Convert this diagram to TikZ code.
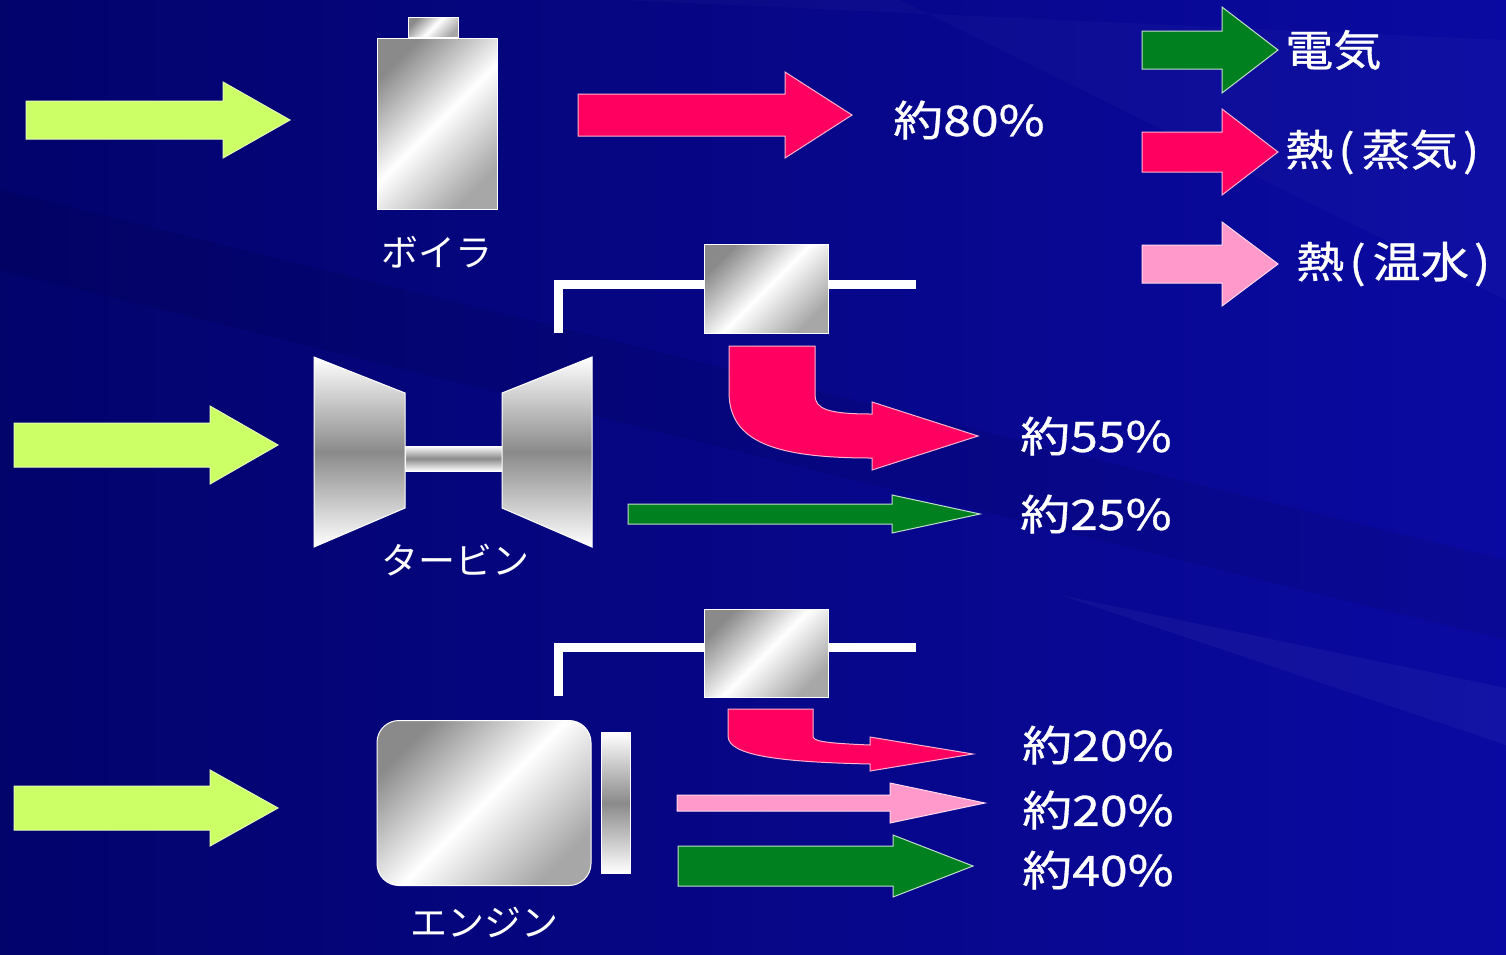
\documentclass[tikz,border=0pt]{standalone}
\usepackage{fontspec}
\usepackage{tikz}
\usetikzlibrary{positioning}
\newfontfamily\jp{Noto Sans CJK JP}
\newfontfamily\jpwide[FakeStretch=1.19, FakeBold=0.8]{Noto Sans CJK JP}
\newfontfamily\jpkey[FakeStretch=1.12, FakeBold=0.8]{Noto Sans CJK JP}
\definecolor{bgblue}{HTML}{0A0AA2}
\definecolor{bgdark}{HTML}{03036C}
\definecolor{fuel}{HTML}{CCFF66}
\definecolor{power}{HTML}{00801E}
\definecolor{steam}{HTML}{FF0060}
\definecolor{hotwater}{HTML}{FF99CC}
\definecolor{metal}{HTML}{8A8A8A}

% block arrow: style, tip name, x start, x neck, x tip, y, half shaft, half head
\newcommand{\flow}[8]{%
  \filldraw[#1] (#3,#6-#7) -- (#4,#6-#7) -- (#4,#6-#8) -- (#5,#6) -- (#4,#6+#8) -- (#4,#6+#7) -- (#3,#6+#7) -- cycle;
  \coordinate (#2) at (#5,#6);}
% narrow brackets for the key
\newcommand{\lpar}{\kern5pt(\kern7pt}
\newcommand{\rpar}{\kern5pt)}

\begin{document}
\begin{tikzpicture}[x=1pt, y=-1pt, font=\jp, line join=miter,
    fuelarrow/.style={fill=fuel, draw=fuel!50!white, line width=1pt},
    powerarrow/.style={fill=power, draw=white!75!power, line width=1pt},
    steamarrow/.style={fill=steam, draw=white!70!steam, line width=1pt},
    waterarrow/.style={fill=hotwater, draw=white!60!hotwater, line width=1pt},
    metalbox/.style={draw=white, line width=1pt, inner sep=0pt, left color=metal, right color=metal!75, middle color=white, shading angle=45},
    metalbar/.style={draw=white, line width=1pt, inner sep=0pt, top color=white, bottom color=white, middle color=metal},
    pipe/.style={draw=white, line width=9pt},
    pct/.style={text=white, font=\jpwide\fontsize{42}{42}\selectfont, inner sep=0pt, anchor=west},
    keytext/.style={text=white, font=\jpkey\fontsize{43}{43}\selectfont, inner sep=0pt, anchor=west},
    unit/.style={text=white!92, font=\jp\fontsize{37}{37}\selectfont, inner sep=0pt}]

  % background
  \useasboundingbox (0,0) rectangle (1506,954);
  \shade[left color=bgdark, right color=bgblue] (0,0) rectangle (1506,954);
  \fill[white, opacity=0.04] (1060,595) -- (1506,688) -- (1506,745) -- cycle;
  \fill[white, opacity=0.025] (620,0) -- (1506,40) -- (1506,300) -- (900,0) -- cycle;
  \fill[black, opacity=0.07] (0,190) -- (1506,560) -- (1506,640) -- (0,270) -- cycle;

  % boiler
  \node[metalbox, minimum width=120pt, minimum height=171pt] (boiler) at (437,123.5) {};
  \node[metalbox, minimum width=50pt, minimum height=20pt, anchor=south] (boilercap) at (433,38) {};
  \node[unit, below=26pt of boiler] (boilerlabel) {ボイラ};
  \flow{fuelarrow}{in1}{26}{223}{290}{120}{19}{38}
  \flow{steamarrow}{boilout}{578}{785}{852}{115}{21}{43}
  \node[pct] (p80) at (893,120) {約80\%};

  % turbine
  \draw[pipe] (558,333) -- (558,284) -- (916,284);
  \node[metalbox, minimum width=124pt, minimum height=89pt] (gen1) at (766,289) {};
  \shade[metalbar] (405,446) rectangle (502,471);
  \shade[metalbar] (314,357) -- (405,393) -- (405,508) -- (314,547) -- cycle;
  \shade[metalbar] (592,357) -- (502,393) -- (502,508) -- (592,547) -- cycle;
  \node[unit] (turbinelabel) at (455,560) {タービン};
  \flow{fuelarrow}{in2}{14}{210}{278}{445}{22}{39}
  \filldraw[steamarrow] (729,346) -- (815,346) -- (815,395)
    .. controls (815,409) and (828,414) .. (872,414) -- (872,402) -- (978,436) -- (872,470) -- (872,458)
    .. controls (775,458) and (729,442) .. (729,392) -- cycle;
  \coordinate (turbsteam) at (978,436);
  \flow{powerarrow}{turbpower}{628}{892}{980}{514}{10}{19}
  \node[pct, right=42pt of turbsteam] (p55) {約55\%};
  \node[pct, right=40pt of turbpower] (p25) {約25\%};

  % engine
  \draw[pipe] (558,696) -- (558,647) -- (916,647);
  \node[metalbox, minimum width=124pt, minimum height=88pt] (gen2) at (766,653) {};
  \node[metalbox, rounded corners=22pt, minimum width=214pt, minimum height=165pt] (engine) at (484,803) {};
  \node[metalbar, minimum width=29pt, minimum height=141pt] (flywheel) at (616,803) {};
  \node[unit, below=21pt of engine] (enginelabel) {エンジン};
  \flow{fuelarrow}{in3}{14}{210}{278}{808}{22}{38}
  \filldraw[steamarrow] (728,709) -- (813,709) -- (813,736)
    .. controls (813,741) and (822,743) .. (870,745) -- (870,737) -- (973,754) -- (870,771) -- (870,764)
    .. controls (782,762) and (728,756) .. (728,736) -- cycle;
  \coordinate (engsteam) at (973,754);
  \flow{waterarrow}{engwater}{677}{890}{985}{803}{8}{20}
  \flow{powerarrow}{engpower}{678}{893}{973}{866}{20}{31}
  \node[pct] (p20a) at (1022,745) {約20\%};
  \node[pct] (p20b) at (1022,810) {約20\%};
  \node[pct] (p40) at (1022,870) {約40\%};

  % legend
  \flow{powerarrow}{keypower}{1142}{1222}{1278}{50}{19}{43}
  \flow{steamarrow}{keysteam}{1142}{1222}{1278}{152}{20}{43}
  \flow{waterarrow}{keywater}{1142}{1222}{1278}{264}{19}{42}
  \node[keytext, right=7pt of keypower] (keyelec) {電気};
  \node[keytext, right=7pt of keysteam] (keyheat) {熱\lpar 蒸気\rpar};
  \node[keytext, right=18pt of keywater] (keyhot) {熱\lpar 温水\rpar};
\end{tikzpicture}
\end{document}
